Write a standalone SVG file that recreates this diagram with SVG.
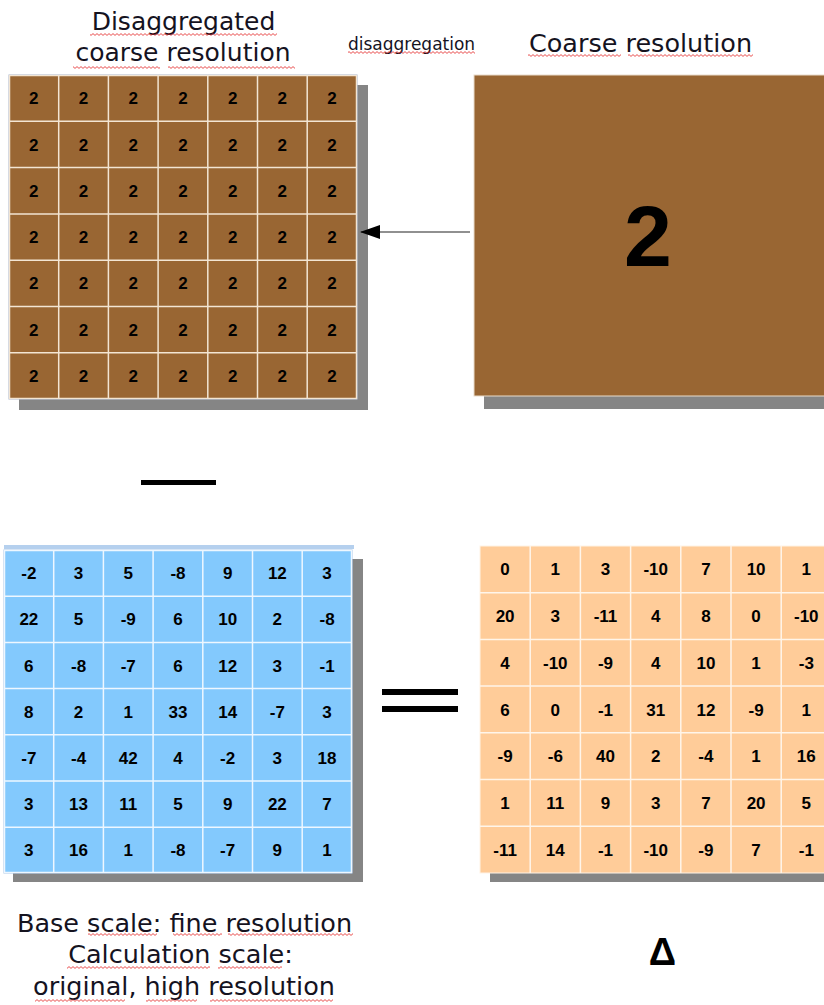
<svg xmlns="http://www.w3.org/2000/svg" width="824" height="1005" viewBox="0 0 824 1005">
<style>
.lbl{font-family:"DejaVu Sans",sans-serif;fill:#15131f;text-anchor:middle}
.num{font-family:"Liberation Sans",Arial,sans-serif;font-weight:bold;font-size:17px;fill:#000;text-anchor:middle}
.shadow{fill:#858585}
.sq{fill:url(#squig)}
.gl-brown{stroke:#f3e5d3;stroke-width:1.5}
.gl-blue{stroke:#eef7ff;stroke-width:1.5}
.gl-orange{stroke:#fff5ea;stroke-width:1.5}
</style>
<defs>
<pattern id="squig" patternUnits="userSpaceOnUse" width="4" height="3">
<path d="M0,1.5 Q1,-0.3 2,1.5 T4,1.5" fill="none" stroke="#e32222" stroke-width="0.8"/>
</pattern>
<marker id="arr" markerUnits="userSpaceOnUse" markerWidth="20" markerHeight="14" viewBox="0 0 20 14" refX="19" refY="7" orient="auto">
<path d="M0,0 L20,7 L0,14 z" fill="#000"/>
</marker>
</defs>
<rect width="824" height="1005" fill="#fff"/>

<g id="title-left">
<text class="lbl" x="183.5" y="30" font-size="25">Disaggregated</text>
<text class="lbl" x="183" y="61" font-size="25">coarse resolution</text>
<rect class="sq" x="90" y="33" width="187" height="3"/>
<rect class="sq" x="73" y="66" width="87" height="3"/>
<rect class="sq" x="168" y="66" width="127" height="3"/>
</g>
<g id="title-arrow">
<text class="lbl" x="411.5" y="50" font-size="17">disaggregation</text>
<rect class="sq" x="348" y="51" width="127" height="3"/>
</g>
<g id="title-right">
<text class="lbl" x="640.5" y="52" font-size="25.5">Coarse resolution</text>
<rect class="sq" x="528" y="54" width="93" height="3"/>
<rect class="sq" x="628" y="54" width="125" height="3"/>
</g>

<g id="disaggregated-grid">
<rect class="shadow" x="19" y="85" width="349" height="325"/>
<rect x="9" y="75" width="348" height="324" fill="#996633" stroke="#9aaed0" stroke-width="1"/>
<g class="gl-brown">
<line x1="58.7" y1="75" x2="58.7" y2="399"/><line x1="108.4" y1="75" x2="108.4" y2="399"/><line x1="158.1" y1="75" x2="158.1" y2="399"/><line x1="207.8" y1="75" x2="207.8" y2="399"/><line x1="257.5" y1="75" x2="257.5" y2="399"/><line x1="307.2" y1="75" x2="307.2" y2="399"/>
<line x1="9" y1="121.3" x2="357" y2="121.3"/><line x1="9" y1="167.6" x2="357" y2="167.6"/><line x1="9" y1="213.9" x2="357" y2="213.9"/><line x1="9" y1="260.2" x2="357" y2="260.2"/><line x1="9" y1="306.5" x2="357" y2="306.5"/><line x1="9" y1="352.8" x2="357" y2="352.8"/>
<rect x="9.5" y="75.5" width="347" height="323" fill="none"/>
</g>
<g class="num">
<text x="33.85" y="104.2">2</text><text x="83.55" y="104.2">2</text><text x="133.25" y="104.2">2</text><text x="182.95" y="104.2">2</text><text x="232.65" y="104.2">2</text><text x="282.35" y="104.2">2</text><text x="332.05" y="104.2">2</text>
<text x="33.85" y="150.5">2</text><text x="83.55" y="150.5">2</text><text x="133.25" y="150.5">2</text><text x="182.95" y="150.5">2</text><text x="232.65" y="150.5">2</text><text x="282.35" y="150.5">2</text><text x="332.05" y="150.5">2</text>
<text x="33.85" y="196.8">2</text><text x="83.55" y="196.8">2</text><text x="133.25" y="196.8">2</text><text x="182.95" y="196.8">2</text><text x="232.65" y="196.8">2</text><text x="282.35" y="196.8">2</text><text x="332.05" y="196.8">2</text>
<text x="33.85" y="243.1">2</text><text x="83.55" y="243.1">2</text><text x="133.25" y="243.1">2</text><text x="182.95" y="243.1">2</text><text x="232.65" y="243.1">2</text><text x="282.35" y="243.1">2</text><text x="332.05" y="243.1">2</text>
<text x="33.85" y="289.4">2</text><text x="83.55" y="289.4">2</text><text x="133.25" y="289.4">2</text><text x="182.95" y="289.4">2</text><text x="232.65" y="289.4">2</text><text x="282.35" y="289.4">2</text><text x="332.05" y="289.4">2</text>
<text x="33.85" y="335.7">2</text><text x="83.55" y="335.7">2</text><text x="133.25" y="335.7">2</text><text x="182.95" y="335.7">2</text><text x="232.65" y="335.7">2</text><text x="282.35" y="335.7">2</text><text x="332.05" y="335.7">2</text>
<text x="33.85" y="382">2</text><text x="83.55" y="382">2</text><text x="133.25" y="382">2</text><text x="182.95" y="382">2</text><text x="232.65" y="382">2</text><text x="282.35" y="382">2</text><text x="332.05" y="382">2</text>
</g>
</g>

<g id="coarse-box">
<rect class="shadow" x="484" y="85" width="360" height="324"/>
<rect x="474" y="75" width="370" height="321" fill="#996633" stroke="#e9dccb" stroke-width="1"/>
<text x="648" y="266" font-family="Liberation Sans, Arial, sans-serif" font-weight="bold" font-size="86" text-anchor="middle" fill="#000">2</text>
</g>

<g id="connectors">
<line x1="470" y1="232" x2="361" y2="232" stroke="#222" stroke-width="1.2" marker-end="url(#arr)"/>
</g>

<g id="minus">
<rect x="141" y="480" width="75" height="5" fill="#000"/>
</g>

<g id="base-grid">
<rect class="shadow" x="13" y="559" width="350" height="323"/>
<rect x="4" y="550" width="348" height="323" fill="#83c9fd" stroke="#9dbde4" stroke-width="1"/>
<rect x="4" y="545" width="350" height="4" fill="#b5d0ee"/>
<g class="gl-blue">
<line x1="53.7" y1="550" x2="53.7" y2="873"/><line x1="103.4" y1="550" x2="103.4" y2="873"/><line x1="153.1" y1="550" x2="153.1" y2="873"/><line x1="202.8" y1="550" x2="202.8" y2="873"/><line x1="252.5" y1="550" x2="252.5" y2="873"/><line x1="302.2" y1="550" x2="302.2" y2="873"/>
<line x1="4" y1="596.2" x2="352" y2="596.2"/><line x1="4" y1="642.4" x2="352" y2="642.4"/><line x1="4" y1="688.6" x2="352" y2="688.6"/><line x1="4" y1="734.8" x2="352" y2="734.8"/><line x1="4" y1="781" x2="352" y2="781"/><line x1="4" y1="827.2" x2="352" y2="827.2"/>
<rect x="4.5" y="550.5" width="347" height="322" fill="none"/>
</g>
<g class="num">
<text x="28.85" y="579.1">-2</text><text x="78.55" y="579.1">3</text><text x="128.25" y="579.1">5</text><text x="177.95" y="579.1">-8</text><text x="227.65" y="579.1">9</text><text x="277.35" y="579.1">12</text><text x="327.05" y="579.1">3</text>
<text x="28.85" y="625.3">22</text><text x="78.55" y="625.3">5</text><text x="128.25" y="625.3">-9</text><text x="177.95" y="625.3">6</text><text x="227.65" y="625.3">10</text><text x="277.35" y="625.3">2</text><text x="327.05" y="625.3">-8</text>
<text x="28.85" y="671.5">6</text><text x="78.55" y="671.5">-8</text><text x="128.25" y="671.5">-7</text><text x="177.95" y="671.5">6</text><text x="227.65" y="671.5">12</text><text x="277.35" y="671.5">3</text><text x="327.05" y="671.5">-1</text>
<text x="28.85" y="717.7">8</text><text x="78.55" y="717.7">2</text><text x="128.25" y="717.7">1</text><text x="177.95" y="717.7">33</text><text x="227.65" y="717.7">14</text><text x="277.35" y="717.7">-7</text><text x="327.05" y="717.7">3</text>
<text x="28.85" y="763.9">-7</text><text x="78.55" y="763.9">-4</text><text x="128.25" y="763.9">42</text><text x="177.95" y="763.9">4</text><text x="227.65" y="763.9">-2</text><text x="277.35" y="763.9">3</text><text x="327.05" y="763.9">18</text>
<text x="28.85" y="810.1">3</text><text x="78.55" y="810.1">13</text><text x="128.25" y="810.1">11</text><text x="177.95" y="810.1">5</text><text x="227.65" y="810.1">9</text><text x="277.35" y="810.1">22</text><text x="327.05" y="810.1">7</text>
<text x="28.85" y="856.3">3</text><text x="78.55" y="856.3">16</text><text x="128.25" y="856.3">1</text><text x="177.95" y="856.3">-8</text><text x="227.65" y="856.3">-7</text><text x="277.35" y="856.3">9</text><text x="327.05" y="856.3">1</text>
</g>
</g>

<g id="equals">
<rect x="382" y="689" width="76" height="6" fill="#000"/>
<rect x="382" y="706" width="76" height="6" fill="#000"/>
</g>

<g id="delta-grid">
<rect class="shadow" x="490" y="556" width="350" height="326"/>
<rect x="480" y="546" width="352" height="327" fill="#ffcc99" stroke="#fff3e6" stroke-width="1"/>
<g class="gl-orange">
<line x1="530.2" y1="546" x2="530.2" y2="873"/><line x1="580.4" y1="546" x2="580.4" y2="873"/><line x1="630.6" y1="546" x2="630.6" y2="873"/><line x1="680.8" y1="546" x2="680.8" y2="873"/><line x1="731" y1="546" x2="731" y2="873"/><line x1="781.2" y1="546" x2="781.2" y2="873"/>
<line x1="480" y1="592.7" x2="832" y2="592.7"/><line x1="480" y1="639.4" x2="832" y2="639.4"/><line x1="480" y1="686.1" x2="832" y2="686.1"/><line x1="480" y1="732.8" x2="832" y2="732.8"/><line x1="480" y1="779.5" x2="832" y2="779.5"/><line x1="480" y1="826.2" x2="832" y2="826.2"/>
</g>
<g class="num">
<text x="505.1" y="575.4">0</text><text x="555.3" y="575.4">1</text><text x="605.5" y="575.4">3</text><text x="655.7" y="575.4">-10</text><text x="705.9" y="575.4">7</text><text x="756.1" y="575.4">10</text><text x="806.3" y="575.4">1</text>
<text x="505.1" y="622.1">20</text><text x="555.3" y="622.1">3</text><text x="605.5" y="622.1">-11</text><text x="655.7" y="622.1">4</text><text x="705.9" y="622.1">8</text><text x="756.1" y="622.1">0</text><text x="806.3" y="622.1">-10</text>
<text x="505.1" y="668.8">4</text><text x="555.3" y="668.8">-10</text><text x="605.5" y="668.8">-9</text><text x="655.7" y="668.8">4</text><text x="705.9" y="668.8">10</text><text x="756.1" y="668.8">1</text><text x="806.3" y="668.8">-3</text>
<text x="505.1" y="715.5">6</text><text x="555.3" y="715.5">0</text><text x="605.5" y="715.5">-1</text><text x="655.7" y="715.5">31</text><text x="705.9" y="715.5">12</text><text x="756.1" y="715.5">-9</text><text x="806.3" y="715.5">1</text>
<text x="505.1" y="762.2">-9</text><text x="555.3" y="762.2">-6</text><text x="605.5" y="762.2">40</text><text x="655.7" y="762.2">2</text><text x="705.9" y="762.2">-4</text><text x="756.1" y="762.2">1</text><text x="806.3" y="762.2">16</text>
<text x="505.1" y="808.9">1</text><text x="555.3" y="808.9">11</text><text x="605.5" y="808.9">9</text><text x="655.7" y="808.9">3</text><text x="705.9" y="808.9">7</text><text x="756.1" y="808.9">20</text><text x="806.3" y="808.9">5</text>
<text x="505.1" y="855.6">-11</text><text x="555.3" y="855.6">14</text><text x="605.5" y="855.6">-1</text><text x="655.7" y="855.6">-10</text><text x="705.9" y="855.6">-9</text><text x="756.1" y="855.6">7</text><text x="806.3" y="855.6">-1</text>
</g>
</g>

<g id="caption-base">
<text class="lbl" x="184.5" y="932" font-size="25.5">Base scale: fine resolution</text>
<text class="lbl" x="180.5" y="963" font-size="25.5">Calculation scale:</text>
<text class="lbl" x="184" y="995" font-size="25.5">original, high resolution</text>
<rect class="sq" x="88" y="933" width="69" height="3"/>
<rect class="sq" x="173" y="933" width="49" height="3"/>
<rect class="sq" x="228" y="933" width="125" height="3"/>
<rect class="sq" x="67" y="966" width="143" height="3"/>
<rect class="sq" x="218" y="966" width="64" height="3"/>
<rect class="sq" x="35" y="999" width="90" height="3"/>
<rect class="sq" x="146" y="999" width="51" height="3"/>
<rect class="sq" x="210" y="999" width="123" height="3"/>
</g>

<g id="caption-delta">
<text x="662.5" y="965" font-family="Liberation Sans, Arial, sans-serif" font-weight="bold" font-size="38" text-anchor="middle" fill="#000">Δ</text>
</g>
</svg>
